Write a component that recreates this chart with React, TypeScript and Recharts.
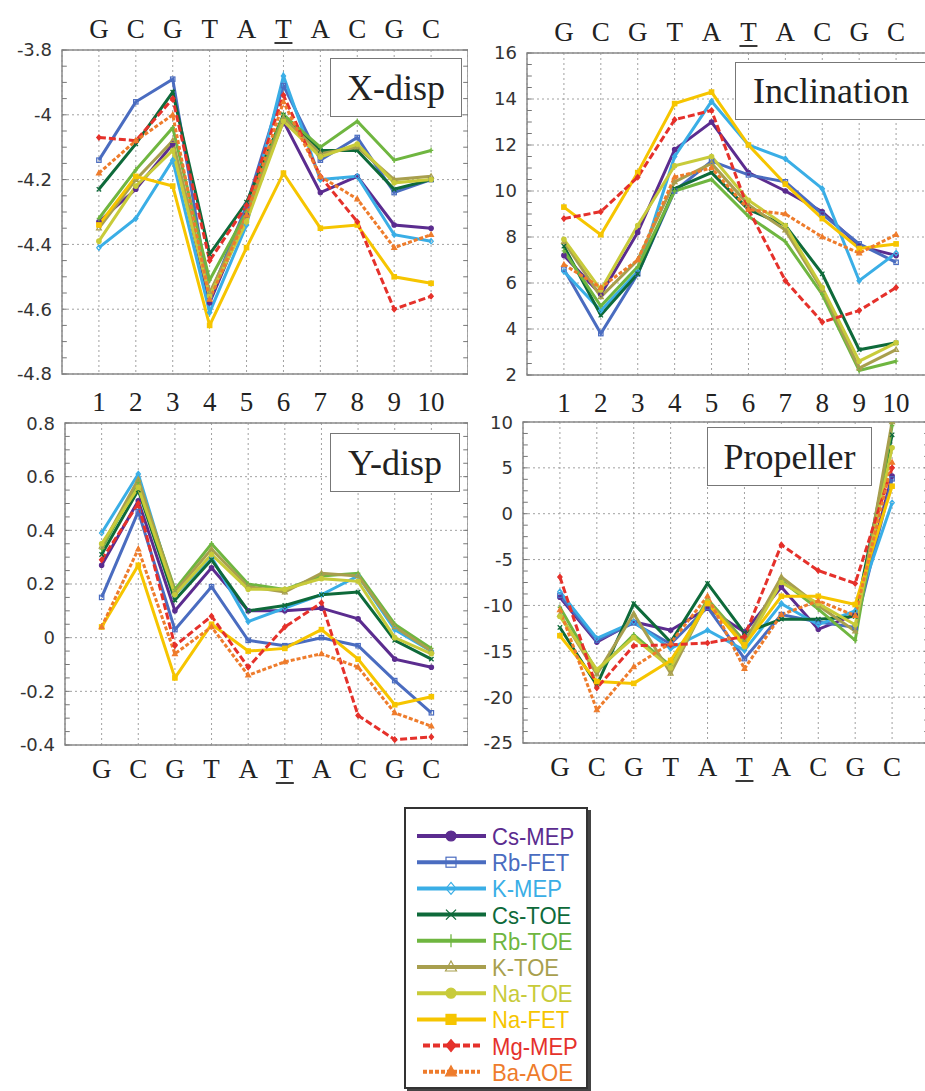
import React from 'react'
import {
  LineChart,
  Line,
  XAxis,
  YAxis,
  CartesianGrid,
  ReferenceArea,
  ReferenceLine,
} from 'recharts'

// step positions along the duplex and the base at each step
const POSITIONS = [1, 2, 3, 4, 5, 6, 7, 8, 9, 10]
const BASES = ['G', 'C', 'G', 'T', 'A', 'T', 'A', 'C', 'G', 'C']
const UNDERLINED = 6

const SERIES_NAMES = ['Cs-MEP', 'Rb-FET', 'K-MEP', 'Cs-TOE', 'Rb-TOE', 'K-TOE', 'Na-TOE', 'Na-FET', 'Mg-MEP', 'Ba-AOE']
const SERIES_COLORS = ['#5b2c8f', '#4a6cc0', '#3aaee6', '#0e6a3a', '#6fb640', '#a89f4e', '#c8cb3a', '#f6c500', '#e5312b', '#ee7c2c']
const SERIES_MARKERS = ['circle', 'square', 'diamond', 'cross', 'plus', 'triangle', 'circle', 'square', 'diamond', 'triangle']
const SERIES_FILLED = [true, false, false, false, false, false, true, true, true, true]
const SERIES_DASH = ['', '', '', '', '', '', '', '', '7 3', '4 2']

// values, rows in SERIES_NAMES order
const X_DISP = [
  [-4.33, -4.23, -4.09, -4.58, -4.31, -4.02, -4.24, -4.19, -4.34, -4.35],
  [-4.14, -3.96, -3.89, -4.56, -4.28, -3.91, -4.14, -4.07, -4.24, -4.2],
  [-4.41, -4.32, -4.14, -4.61, -4.34, -3.88, -4.2, -4.19, -4.37, -4.39],
  [-4.23, -4.09, -3.93, -4.43, -4.27, -4.0, -4.11, -4.11, -4.23, -4.2],
  [-4.32, -4.17, -4.04, -4.51, -4.3, -4.0, -4.1, -4.02, -4.14, -4.11],
  [-4.35, -4.2, -4.08, -4.55, -4.31, -4.01, -4.12, -4.1, -4.2, -4.19],
  [-4.39, -4.22, -4.11, -4.56, -4.33, -4.02, -4.13, -4.09, -4.21, -4.2],
  [-4.34, -4.19, -4.22, -4.65, -4.41, -4.18, -4.35, -4.34, -4.5, -4.52],
  [-4.07, -4.08, -3.95, -4.45, -4.28, -3.94, -4.19, -4.33, -4.6, -4.56],
  [-4.18, -4.08, -4.0, -4.57, -4.31, -3.96, -4.19, -4.26, -4.41, -4.37],
]

const INCLINATION = [
  [7.2, 5.5, 8.2, 11.8, 13.0, 10.8, 10.0, 9.1, 7.6, 7.2],
  [6.6, 3.8, 6.4, 10.0, 11.3, 10.7, 10.4, 9.0, 7.7, 6.9],
  [6.5, 4.8, 6.5, 11.5, 13.9, 12.0, 11.4, 10.1, 6.1, 7.3],
  [7.6, 4.6, 6.4, 10.1, 10.8, 9.2, 8.5, 6.4, 3.1, 3.4],
  [7.4, 5.0, 6.7, 10.0, 10.5, 8.9, 7.8, 5.5, 2.2, 2.6],
  [7.8, 5.4, 7.0, 10.4, 11.2, 9.4, 8.3, 5.7, 2.3, 3.1],
  [7.9, 5.7, 8.5, 11.1, 11.5, 9.6, 8.5, 5.8, 2.6, 3.4],
  [9.3, 8.1, 10.8, 13.8, 14.3, 12.0, 10.3, 8.8, 7.5, 7.7],
  [8.8, 9.1, 10.6, 13.1, 13.5, 9.2, 6.1, 4.3, 4.8, 5.8],
  [6.8, 5.8, 7.0, 10.6, 11.0, 9.2, 9.0, 8.0, 7.3, 8.1],
]

const Y_DISP = [
  [0.27, 0.51, 0.1, 0.26, 0.1, 0.1, 0.11, 0.07, -0.08, -0.11],
  [0.15, 0.47, 0.03, 0.19, -0.01, -0.03, 0.0, -0.03, -0.16, -0.28],
  [0.39, 0.61, 0.16, 0.3, 0.06, 0.11, 0.16, 0.23, 0.03, -0.05],
  [0.31, 0.55, 0.14, 0.29, 0.1, 0.12, 0.16, 0.17, -0.01, -0.08],
  [0.33, 0.58, 0.18, 0.35, 0.2, 0.18, 0.23, 0.24, 0.05, -0.04],
  [0.34, 0.59, 0.17, 0.33, 0.19, 0.17, 0.24, 0.23, 0.04, -0.05],
  [0.35, 0.56, 0.16, 0.31, 0.18, 0.18, 0.22, 0.21, 0.0, -0.06],
  [0.04, 0.27, -0.15, 0.05, -0.05, -0.04, 0.03, -0.08, -0.25, -0.22],
  [0.29, 0.5, -0.03, 0.08, -0.11, 0.04, 0.13, -0.29, -0.38, -0.37],
  [0.04, 0.33, -0.06, 0.04, -0.14, -0.09, -0.06, -0.11, -0.28, -0.33],
]

const PROPELLER = [
  [-9.1, -14.0, -11.8, -12.7, -10.3, -12.9, -8.0, -12.6, -11.0, 4.1],
  [-8.9, -13.8, -11.9, -14.2, -10.2, -15.8, -11.0, -11.8, -12.4, 3.8],
  [-8.5, -13.6, -11.8, -14.7, -12.7, -14.9, -9.8, -12.1, -10.6, 1.2],
  [-12.4, -18.7, -9.8, -14.0, -7.6, -13.0, -11.5, -11.5, -11.2, 8.6],
  [-10.2, -17.2, -13.2, -16.6, -9.3, -13.9, -7.3, -10.4, -13.8, 9.6],
  [-11.0, -17.5, -10.9, -17.4, -9.5, -14.1, -6.9, -10.0, -12.8, 10.0],
  [-11.2, -17.0, -13.5, -16.8, -9.6, -14.5, -7.5, -9.8, -12.1, 7.2],
  [-13.3, -18.3, -18.5, -16.0, -9.8, -14.3, -9.0, -9.0, -9.9, 3.0],
  [-6.9, -19.0, -14.4, -14.3, -14.1, -13.4, -3.4, -6.2, -7.6, 5.0],
  [-10.5, -21.4, -16.7, -14.1, -9.0, -16.9, -11.0, -9.5, -11.1, 5.6],
]

const X_DISP_TICKS = [-4.8, -4.6, -4.4, -4.2, -4, -3.8]
const INCLINATION_TICKS = [2, 4, 6, 8, 10, 12, 14, 16]
const Y_DISP_TICKS = [-0.4, -0.2, 0, 0.2, 0.4, 0.6, 0.8]
const PROPELLER_TICKS = [-25, -20, -15, -10, -5, 0, 5, 10]

const SERIF = '"Liberation Serif", "Times New Roman", serif'
const SANS = '"DejaVu Sans", sans-serif'

function Marker({ cx, cy, shape, color, filled, s }: any) {
  if (cx == null || cy == null) return <g />
  const fill = filled ? color : 'none'
  const common = { stroke: color, strokeWidth: 1.2, fill }
  switch (shape) {
    case 'circle':
      return <circle cx={cx} cy={cy} r={s} {...common} />
    case 'square':
      return <rect x={cx - s} y={cy - s} width={s * 2} height={s * 2} {...common} />
    case 'diamond':
      return <polygon points={`${cx},${cy - s * 1.2} ${cx + s},${cy} ${cx},${cy + s * 1.2} ${cx - s},${cy}`} {...common} />
    case 'triangle':
      return <polygon points={`${cx},${cy - s * 1.2} ${cx + s * 1.1},${cy + s * 0.8} ${cx - s * 1.1},${cy + s * 0.8}`} {...common} />
    case 'cross':
      return <path d={`M${cx - s},${cy - s}L${cx + s},${cy + s}M${cx - s},${cy + s}L${cx + s},${cy - s}`} stroke={color} strokeWidth={1.3} />
    default:
      return <path d={`M${cx},${cy - s * 1.3}L${cx},${cy + s * 1.3}M${cx - s},${cy}L${cx + s},${cy}`} stroke={color} strokeWidth={1.3} />
  }
}

function BaseTick({ x, y, payload, side }: any) {
  const i = Math.round(payload.value) - 1
  const baseline = side === 'top' ? y - 12 : y + 33
  return (
    <g>
      <text x={x} y={baseline} textAnchor="middle" fontFamily={SERIF} fontSize={27} fill="#222">
        {BASES[i]}
      </text>
      {i + 1 === UNDERLINED && (
        <line x1={x - 9} x2={x + 9} y1={baseline + 5} y2={baseline + 5} stroke="#222" strokeWidth={1.8} />
      )}
    </g>
  )
}

function NumberTick({ x, y, payload }: any) {
  return (
    <text x={x} y={y + 37} textAnchor="middle" fontFamily={SERIF} fontSize={27} fill="#222">
      {payload.value}
    </text>
  )
}

interface PanelProps {
  values: number[][]
  domain: [number, number]
  ticks: number[]
  title: string
  titleBox: { left: number; top: number; width: number; height: number }
  left: number
  top: number
  width: number
  yWidth: number
  plotTop: number
  plotBottom: number
  upper: boolean
}

function Panel(p: PanelProps) {
  const data = POSITIONS.map((pos, i) => {
    const row: Record<string, number> = { pos }
    p.values.forEach((vals, k) => {
      row[`s${k}`] = vals[i]
    })
    return row
  })
  const bottomHeight = 45
  const height = p.plotBottom + bottomHeight
  const step = (p.ticks[1] - p.ticks[0]) / 4
  const minor: number[] = []
  for (let v = p.domain[0]; v <= p.domain[1] + 1e-9; v += step) minor.push(+v.toFixed(4))

  return (
    <div style={{ position: 'absolute', left: p.left, top: p.top }}>
      <LineChart
        width={p.width}
        height={height}
        data={data}
        margin={{ top: p.upper ? 0 : p.plotTop, right: 0, bottom: 0, left: 0 }}
      >
        <CartesianGrid stroke="#a0a0a0" strokeDasharray="2 3" strokeWidth={1} />
        <XAxis
          dataKey="pos"
          type="number"
          domain={[0, 11]}
          ticks={POSITIONS}
          allowDataOverflow
          height={bottomHeight}
          axisLine={false}
          tickLine={false}
          tickSize={0}
          tickMargin={0}
          tick={p.upper ? (t: any) => <NumberTick {...t} /> : (t: any) => <BaseTick {...t} side="bottom" />}
        />
        {p.upper && (
          <XAxis
            xAxisId="top"
            orientation="top"
            dataKey="pos"
            type="number"
            domain={[0, 11]}
            ticks={POSITIONS}
            allowDataOverflow
            height={p.plotTop}
            axisLine={false}
            tickLine={false}
            tickSize={0}
            tickMargin={0}
            tick={(t: any) => <BaseTick {...t} side="top" />}
          />
        )}
        <YAxis
          type="number"
          domain={p.domain}
          ticks={p.ticks}
          allowDataOverflow
          width={p.yWidth}
          axisLine={false}
          tickLine={false}
          tickSize={0}
          tickMargin={10}
          tick={{ fill: '#333', fontSize: 18, fontFamily: SANS }}
          tickFormatter={(v: number) => String(v)}
        />
        {minor.map(v => (
          <ReferenceLine key={`l${v}`} segment={[{ x: 0, y: v }, { x: 0.13, y: v }]} stroke="#777" strokeWidth={1} ifOverflow="visible" />
        ))}
        {minor.map(v => (
          <ReferenceLine key={`r${v}`} segment={[{ x: 10.87, y: v }, { x: 11, y: v }]} stroke="#777" strokeWidth={1} ifOverflow="visible" />
        ))}
        {SERIES_NAMES.map((name, k) => (
          <Line
            key={name}
            name={name}
            dataKey={`s${k}`}
            type="linear"
            stroke={SERIES_COLORS[k]}
            strokeWidth={3}
            strokeDasharray={SERIES_DASH[k] || undefined}
            dot={(d: any) => (
              <Marker
                key={`${name}-${d.index}`}
                cx={d.cx}
                cy={d.cy}
                shape={SERIES_MARKERS[k]}
                color={SERIES_COLORS[k]}
                filled={SERIES_FILLED[k]}
                s={2.2}
              />
            )}
            activeDot={false}
            isAnimationActive={false}
          />
        ))}
        <ReferenceArea
          x1={0}
          x2={11}
          y1={p.domain[0]}
          y2={p.domain[1]}
          fill="none"
          stroke="#8a8a8a"
          strokeWidth={1.5}
          ifOverflow="visible"
        />
      </LineChart>
      <div
        style={{
          position: 'absolute',
          left: p.titleBox.left - p.left,
          top: p.titleBox.top - p.top,
          width: p.titleBox.width,
          height: p.titleBox.height,
          boxSizing: 'border-box',
          border: '1.5px solid #777',
          background: '#fff',
          fontFamily: SERIF,
          fontSize: 36,
          color: '#222',
          display: 'flex',
          alignItems: 'center',
          justifyContent: 'center',
        }}
      >
        {p.title}
      </div>
    </div>
  )
}

function SeriesLegend() {
  const rowGap = 26.2
  return (
    <div
      style={{
        position: 'absolute',
        left: 404,
        top: 807,
        width: 184,
        height: 282,
        boxSizing: 'border-box',
        border: '2px solid #333',
        boxShadow: '3px 3px 0 #444',
        background: '#fff',
      }}
    >
      <svg width={180} height={278}>
        {SERIES_NAMES.map((name, k) => {
          const y = 27 + k * rowGap
          const dashed = !!SERIES_DASH[k]
          return (
            <g key={name}>
              <line
                x1={dashed ? 17 : 11}
                x2={dashed ? 74 : 80}
                y1={y}
                y2={y}
                stroke={SERIES_COLORS[k]}
                strokeWidth={4}
                strokeDasharray={SERIES_DASH[k] || undefined}
              />
              <Marker cx={45} cy={y} shape={SERIES_MARKERS[k]} color={SERIES_COLORS[k]} filled={SERIES_FILLED[k]} s={5} />
              <text
                x={86}
                y={y + 9}
                transform={`translate(86 0) scale(0.92 1) translate(-86 0)`}
                fontFamily='"Liberation Sans", Arial, sans-serif'
                fontSize={24}
                fill={SERIES_COLORS[k]}
              >
                {name}
              </text>
            </g>
          )
        })}
      </svg>
    </div>
  )
}

export default function App() {
  return (
    <div style={{ position: 'absolute', left: 0, top: 0, width: 925, height: 1091, overflow: 'hidden', background: '#fff' }}>
      <Panel
        values={X_DISP}
        domain={[-4.8, -3.8]}
        ticks={X_DISP_TICKS}
        title="X-disp"
        titleBox={{ left: 330, top: 58, width: 132, height: 59 }}
        left={0}
        top={0}
        width={468}
        yWidth={62}
        plotTop={50}
        plotBottom={374}
        upper
      />
      <Panel
        values={INCLINATION}
        domain={[2, 16]}
        ticks={INCLINATION_TICKS}
        title="Inclination"
        titleBox={{ left: 735, top: 62, width: 192, height: 58 }}
        left={470}
        top={0}
        width={463}
        yWidth={57}
        plotTop={53}
        plotBottom={375}
        upper
      />
      <Panel
        values={Y_DISP}
        domain={[-0.4, 0.8]}
        ticks={Y_DISP_TICKS}
        title="Y-disp"
        titleBox={{ left: 330, top: 433, width: 130, height: 59 }}
        left={0}
        top={413}
        width={468}
        yWidth={65}
        plotTop={10}
        plotBottom={332}
        upper={false}
      />
      <Panel
        values={PROPELLER}
        domain={[-25, 10]}
        ticks={PROPELLER_TICKS}
        title="Propeller"
        titleBox={{ left: 707, top: 427, width: 165, height: 59 }}
        left={470}
        top={412}
        width={459}
        yWidth={53}
        plotTop={10}
        plotBottom={331}
        upper={false}
      />
      <SeriesLegend />
    </div>
  )
}
